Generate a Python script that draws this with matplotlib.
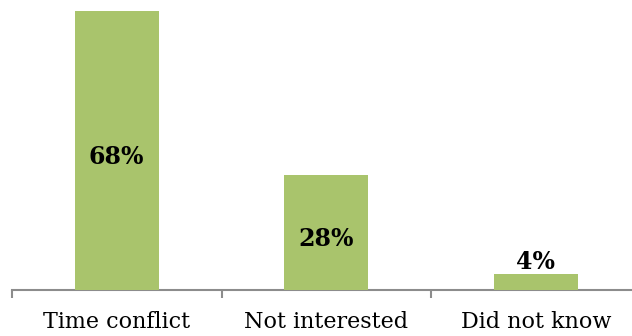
import matplotlib
matplotlib.use("Agg")
import matplotlib.pyplot as plt

categories = ["Time conflict", "Not interested", "Did not know"]
values = [68, 28, 4]
labels = ["68%", "28%", "4%"]

W, H, DPI = 632, 336, 100
fig = plt.figure(figsize=(W / DPI, H / DPI), dpi=DPI)
fig.patch.set_facecolor("white")

left_px, bottom_px, cat_px, top_val_px = 12, 46, 209.5, 279
ax = fig.add_axes([left_px / W, bottom_px / H, 3 * cat_px / W, top_val_px / H])
ax.set_xlim(-0.5, 2.5)
ax.set_ylim(0, 68)

bar_color = "#A9C46C"
x = list(range(len(categories)))
bars = ax.bar(x, values, width=0.4, color=bar_color, zorder=3, clip_on=False)

font = "DejaVu Serif"
for xi, v, lab in zip(x, values, labels):
    if v >= 10:
        ax.text(xi, v / 2 - 1.6, lab, ha="center", va="center", fontsize=17,
                fontweight="bold", family=font, color="black", zorder=4)
    else:
        ax.text(xi, v + 2.8, lab, ha="center", va="center", fontsize=17,
                fontweight="bold", family=font, color="black", zorder=4)

for s in ["top", "right", "left"]:
    ax.spines[s].set_visible(False)
ax.spines["bottom"].set_color("#8c8c8c")
ax.spines["bottom"].set_linewidth(1.5)
ax.set_yticks([])

ax.set_xticks([-0.5, 0.5, 1.5, 2.5])
ax.set_xticklabels([])
ax.tick_params(axis="x", direction="out", length=6, width=1.5, color="#8c8c8c")
ax.set_xticks(x, minor=True)
ax.set_xticklabels(categories, minor=True, family=font, fontsize=16)
ax.tick_params(axis="x", which="minor", length=0, pad=15)

fig.savefig("out.png", dpi=DPI, facecolor="white")
